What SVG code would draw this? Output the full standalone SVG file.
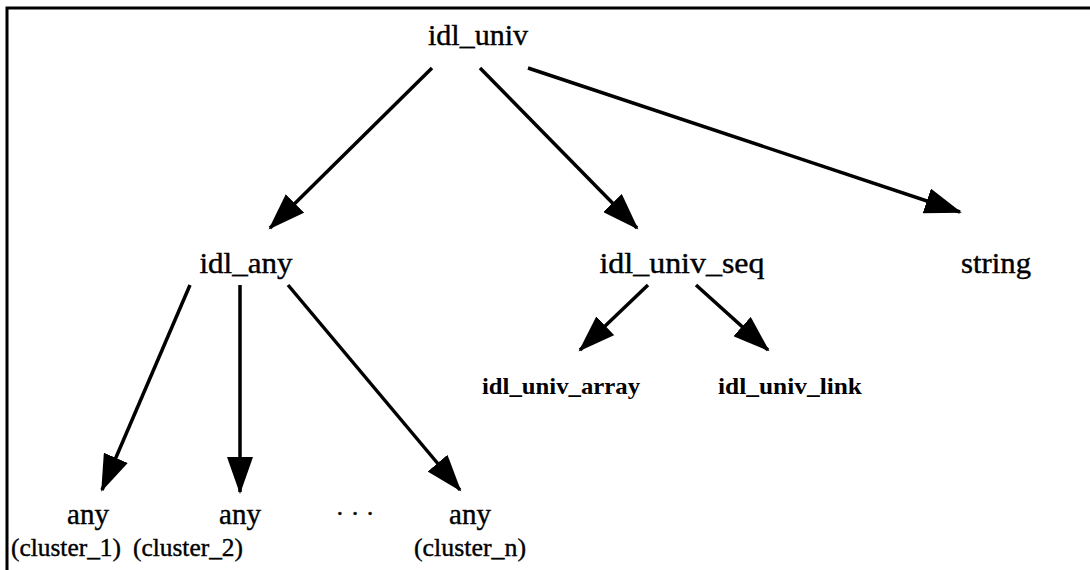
<svg xmlns="http://www.w3.org/2000/svg" width="1090" height="570" viewBox="0 0 1090 570">
<style>
  .t { font-family: "Liberation Serif", "Times New Roman", serif; font-size: 30px; fill: #000; stroke: #000; stroke-width: 0.4; text-anchor: middle; }
  .a { font-family: "Liberation Serif", "Times New Roman", serif; font-size: 29px; fill: #000; stroke: #000; stroke-width: 0.4; text-anchor: middle; }
  .b { font-family: "Liberation Serif", "Times New Roman", serif; font-size: 26px; fill: #000; stroke: #000; stroke-width: 0.4; text-anchor: middle; }
  .s { font-family: "Liberation Serif", "Times New Roman", serif; font-size: 23px; font-weight: bold; fill: #000; text-anchor: middle; }
  .e { stroke: #000; stroke-width: 3.5; fill: none; marker-end: url(#ah); }
  .frame { stroke: #000; stroke-width: 3; fill: none; }
</style>
<defs>
  <marker id="ah" markerUnits="userSpaceOnUse" markerWidth="38" markerHeight="26" refX="35" refY="13" orient="auto">
    <path d="M0,0 L37,13 L0,26 z" fill="#000"/>
  </marker>
</defs>
<rect width="1090" height="570" fill="#fff"/>
<path class="frame" d="M7,570 L7,8 L1090,8"/>
<g id="connectors">
  <line class="e" x1="432" y1="68" x2="270" y2="228"/>
  <line class="e" x1="480" y1="68" x2="637" y2="228"/>
  <line class="e" x1="528" y1="68" x2="960" y2="212"/>
  <line class="e" x1="190" y1="285" x2="102" y2="490"/>
  <line class="e" x1="240" y1="285" x2="240" y2="492"/>
  <line class="e" x1="288" y1="285" x2="460" y2="490"/>
  <line class="e" x1="648" y1="285" x2="580" y2="350"/>
  <line class="e" x1="696" y1="285" x2="768" y2="350"/>
</g>
<g id="idl_univ"><text class="t" x="478" y="45" textLength="100" lengthAdjust="spacingAndGlyphs">idl_univ</text></g>
<g id="idl_any"><text class="t" x="246" y="273" textLength="93" lengthAdjust="spacingAndGlyphs">idl_any</text></g>
<g id="idl_univ_seq"><text class="t" x="682" y="273" textLength="165" lengthAdjust="spacingAndGlyphs">idl_univ_seq</text></g>
<g id="string"><text class="t" x="996" y="273" textLength="70" lengthAdjust="spacingAndGlyphs">string</text></g>
<g id="idl_univ_array"><text class="s" x="561" y="394" textLength="158" lengthAdjust="spacingAndGlyphs">idl_univ_array</text></g>
<g id="idl_univ_link"><text class="s" x="790" y="394" textLength="144" lengthAdjust="spacingAndGlyphs">idl_univ_link</text></g>
<g id="cluster_1"><text class="a" x="88" y="524">any</text><text class="b" x="66" y="556" textLength="110" lengthAdjust="spacingAndGlyphs">(cluster_1)</text></g>
<g id="cluster_2"><text class="a" x="240" y="524">any</text><text class="b" x="188" y="556" textLength="110" lengthAdjust="spacingAndGlyphs">(cluster_2)</text></g>
<g id="ellipsis"><text class="b" x="355" y="522">· · ·</text></g>
<g id="cluster_n"><text class="a" x="470" y="524">any</text><text class="b" x="470" y="556" textLength="112" lengthAdjust="spacingAndGlyphs">(cluster_n)</text></g>
</svg>
